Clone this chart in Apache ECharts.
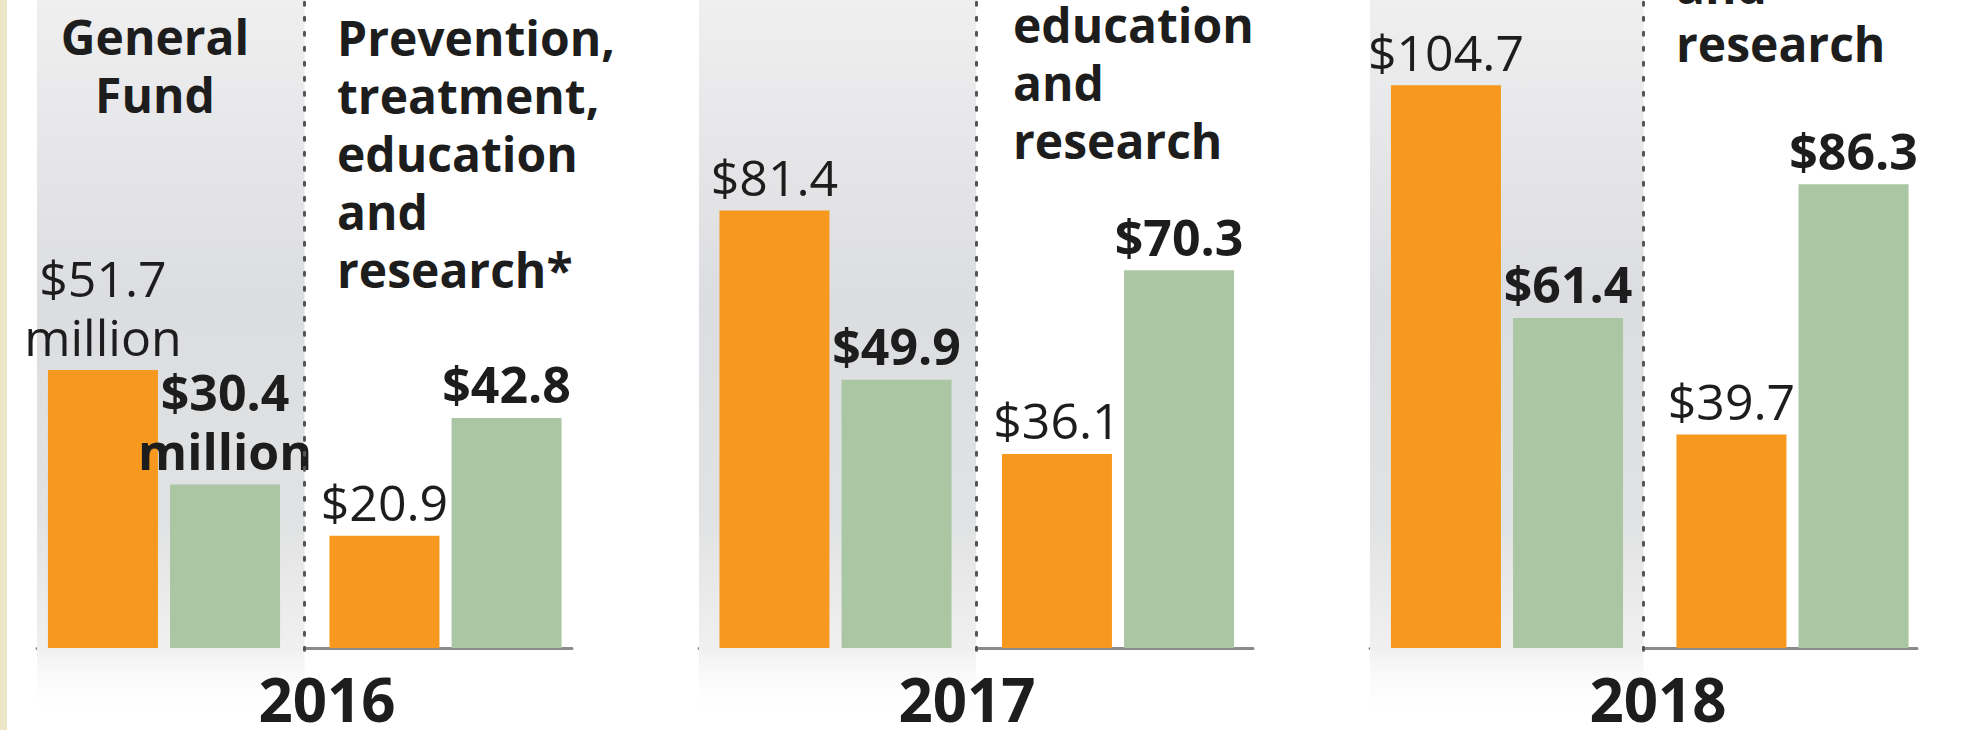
<!DOCTYPE html>
<html>
<head>
<meta charset="utf-8">
<script src="https://cdn.jsdelivr.net/npm/echarts@6/dist/echarts.min.js"></script>
<style>
html,body{margin:0;padding:0;background:#ffffff;}
#c{width:1969px;height:730px;}
</style>
</head>
<body>
<div id="c"></div>
<script>
// ---------------- data ----------------
const years = ['2016', '2017', '2018'];
const categories = ['General Fund', 'Prevention, treatment, education and research'];
const headerA = ['General', 'Fund'];
const headerB = ['Prevention,', 'treatment,', 'education', 'and', 'research'];
const headerBNote = ['*', '', ''];
const orange2016 = [51.7, 20.9];
const green2016 = [30.4, 42.8];
const orange2017 = [81.4, 36.1];
const green2017 = [49.9, 70.3];
const orange2018 = [104.7, 39.7];
const green2018 = [61.4, 86.3];
const unitNote2016 = ['million', ''];

const orangeByYear = [orange2016, orange2017, orange2018];
const greenByYear = [green2016, green2017, green2018];

// ---------------- layout ----------------
const W = 1969, H = 730;
const BASE_Y = 648;          // pixel row of the zero line
const FADE_Y = 720;          // end of the soft panel shade below the baseline
const PX_PER_UNIT = 5.375;   // shared vertical scale of all panels
const Y_MAX = BASE_Y / PX_PER_UNIT;
const Y_MIN_BASE = -(FADE_Y - BASE_Y) / PX_PER_UNIT;

const ORANGE = '#f7991e';
const GREEN = '#aac6a3';
const INK = '#1d1d1d';
const FONT = '"Open Sans", "Noto Sans", sans-serif';

const panels = [
  { barsLeft: 23.25, barsWidth: 563, baseLeft: 37, baseWidth: 535,
    hA: { x: 155, base: 55 }, hB: { x: 337, base: 56 }, yearX: 327 },
  { barsLeft: 694.25, barsWidth: 565, baseLeft: 699, baseWidth: 554,
    hA: null, hB: { x: 1013, base: -73 }, yearX: 967 },
  { barsLeft: 1364.25, barsWidth: 571, baseLeft: 1370, baseWidth: 547,
    hA: null, hB: { x: 1676, base: -170 }, yearX: 1658 }
];

const HEAD_SIZE = 48, HEAD_LH = 58;
const VAL_SIZE = 50, VAL_LH = 59;
const YEAR_SIZE = 60;

const grid = [], xAxis = [], yAxis = [], series = [], graphic = [];

graphic.push({ type: 'rect', shape: { x: 0, y: 0, width: 7, height: H },
  style: { fill: '#ece6c7' }, z: 100 });

panels.forEach((p, i) => {
  const gBars = grid.length;
  grid.push({ left: p.barsLeft, width: p.barsWidth, top: 0, bottom: H - BASE_Y });
  xAxis.push({ type: 'category', gridIndex: gBars, data: categories, show: false });
  yAxis.push({ type: 'value', gridIndex: gBars, min: 0, max: Y_MAX, show: false });

  const gBase = grid.length;
  grid.push({ left: p.baseLeft, width: p.baseWidth, top: 0, bottom: H - FADE_Y });
  xAxis.push({ type: 'value', gridIndex: gBase, min: 0, max: 2,
    axisLine: { show: true, onZero: true, lineStyle: { color: '#8b8b8b', width: 3 } },
    axisTick: { show: false }, axisLabel: { show: false }, splitLine: { show: false } });
  yAxis.push({ type: 'value', gridIndex: gBase, min: Y_MIN_BASE, max: Y_MAX, show: false });

  // panel shade + dotted divider, attached to the base axis
  series.push({
    type: 'line', xAxisIndex: gBase, yAxisIndex: gBase, data: [], z: 0, silent: true,
    markArea: {
      silent: true,
      itemStyle: {
        color: { type: 'linear', x: 0, y: 0, x2: 0, y2: 1, colorStops: [
          { offset: 0, color: '#efeff0' },
          { offset: 0.42, color: '#dcdde0' },
          { offset: 0.72, color: '#e1e2e3' },
          { offset: 0.9, color: '#f0f0f0' },
          { offset: 1, color: 'rgba(255,255,255,0)' } ] }
      },
      data: [[{ coord: [0, Y_MIN_BASE] }, { coord: [1, Y_MAX] }]]
    },
    markLine: {
      silent: true, symbol: ['none', 'none'], label: { show: false },
      lineStyle: { color: '#555555', width: 3, type: [3, 12], cap: 'round' },
      data: [[{ coord: [1, -0.4] }, { coord: [1, Y_MAX] }]]
    }
  });

  const mk = (vals, color, weight, name) => ({
    name: name, type: 'bar', xAxisIndex: gBars, yAxisIndex: gBars, z: 3,
    data: vals, barWidth: 110, barGap: '11%',
    itemStyle: { color: color },
    label: {
      show: true, position: 'top', distance: 4,
      fontFamily: FONT, fontSize: VAL_SIZE, fontWeight: weight, lineHeight: VAL_LH,
      color: INK,
      formatter: (q) => '$' + q.value.toFixed(1) +
        (i === 0 && unitNote2016[q.dataIndex] ? '\n' + unitNote2016[q.dataIndex] : '')
    }
  });
  series.push(mk(orangeByYear[i], ORANGE, 'normal', 'orange ' + years[i]));
  series.push(mk(greenByYear[i], GREEN, 'bold', 'green ' + years[i]));

  // category headers (wrapped category names)
  const headTop = (firstBaseline) => firstBaseline - 0.388 * HEAD_SIZE - HEAD_LH / 2;
  if (p.hA) {
    graphic.push({ type: 'text', z: 50, style: {
      text: headerA.join('\n'), x: p.hA.x, y: headTop(p.hA.base),
      font: 'bold ' + HEAD_SIZE + 'px ' + FONT, lineHeight: HEAD_LH,
      fill: INK, textAlign: 'center', textVerticalAlign: 'top' } });
  }
  if (p.hB) {
    const lines = headerB.slice();
    lines[lines.length - 1] += headerBNote[i];
    graphic.push({ type: 'text', z: 50, style: {
      text: lines.join('\n'), x: p.hB.x, y: headTop(p.hB.base),
      font: 'bold ' + HEAD_SIZE + 'px ' + FONT, lineHeight: HEAD_LH,
      fill: INK, textAlign: 'left', textVerticalAlign: 'top' } });
  }
  // year label
  graphic.push({ type: 'text', z: 50, style: {
    text: years[i], x: p.yearX, y: 699,
    font: 'bold ' + YEAR_SIZE + 'px ' + FONT,
    fill: INK, textAlign: 'center', textVerticalAlign: 'middle' } });
});

const chart = echarts.init(document.getElementById('c'), null, { renderer: 'svg', width: W, height: H });
chart.setOption({
  backgroundColor: '#ffffff',
  animation: false,
  grid: grid, xAxis: xAxis, yAxis: yAxis, series: series, graphic: graphic
});
</script>
</body>
</html>
